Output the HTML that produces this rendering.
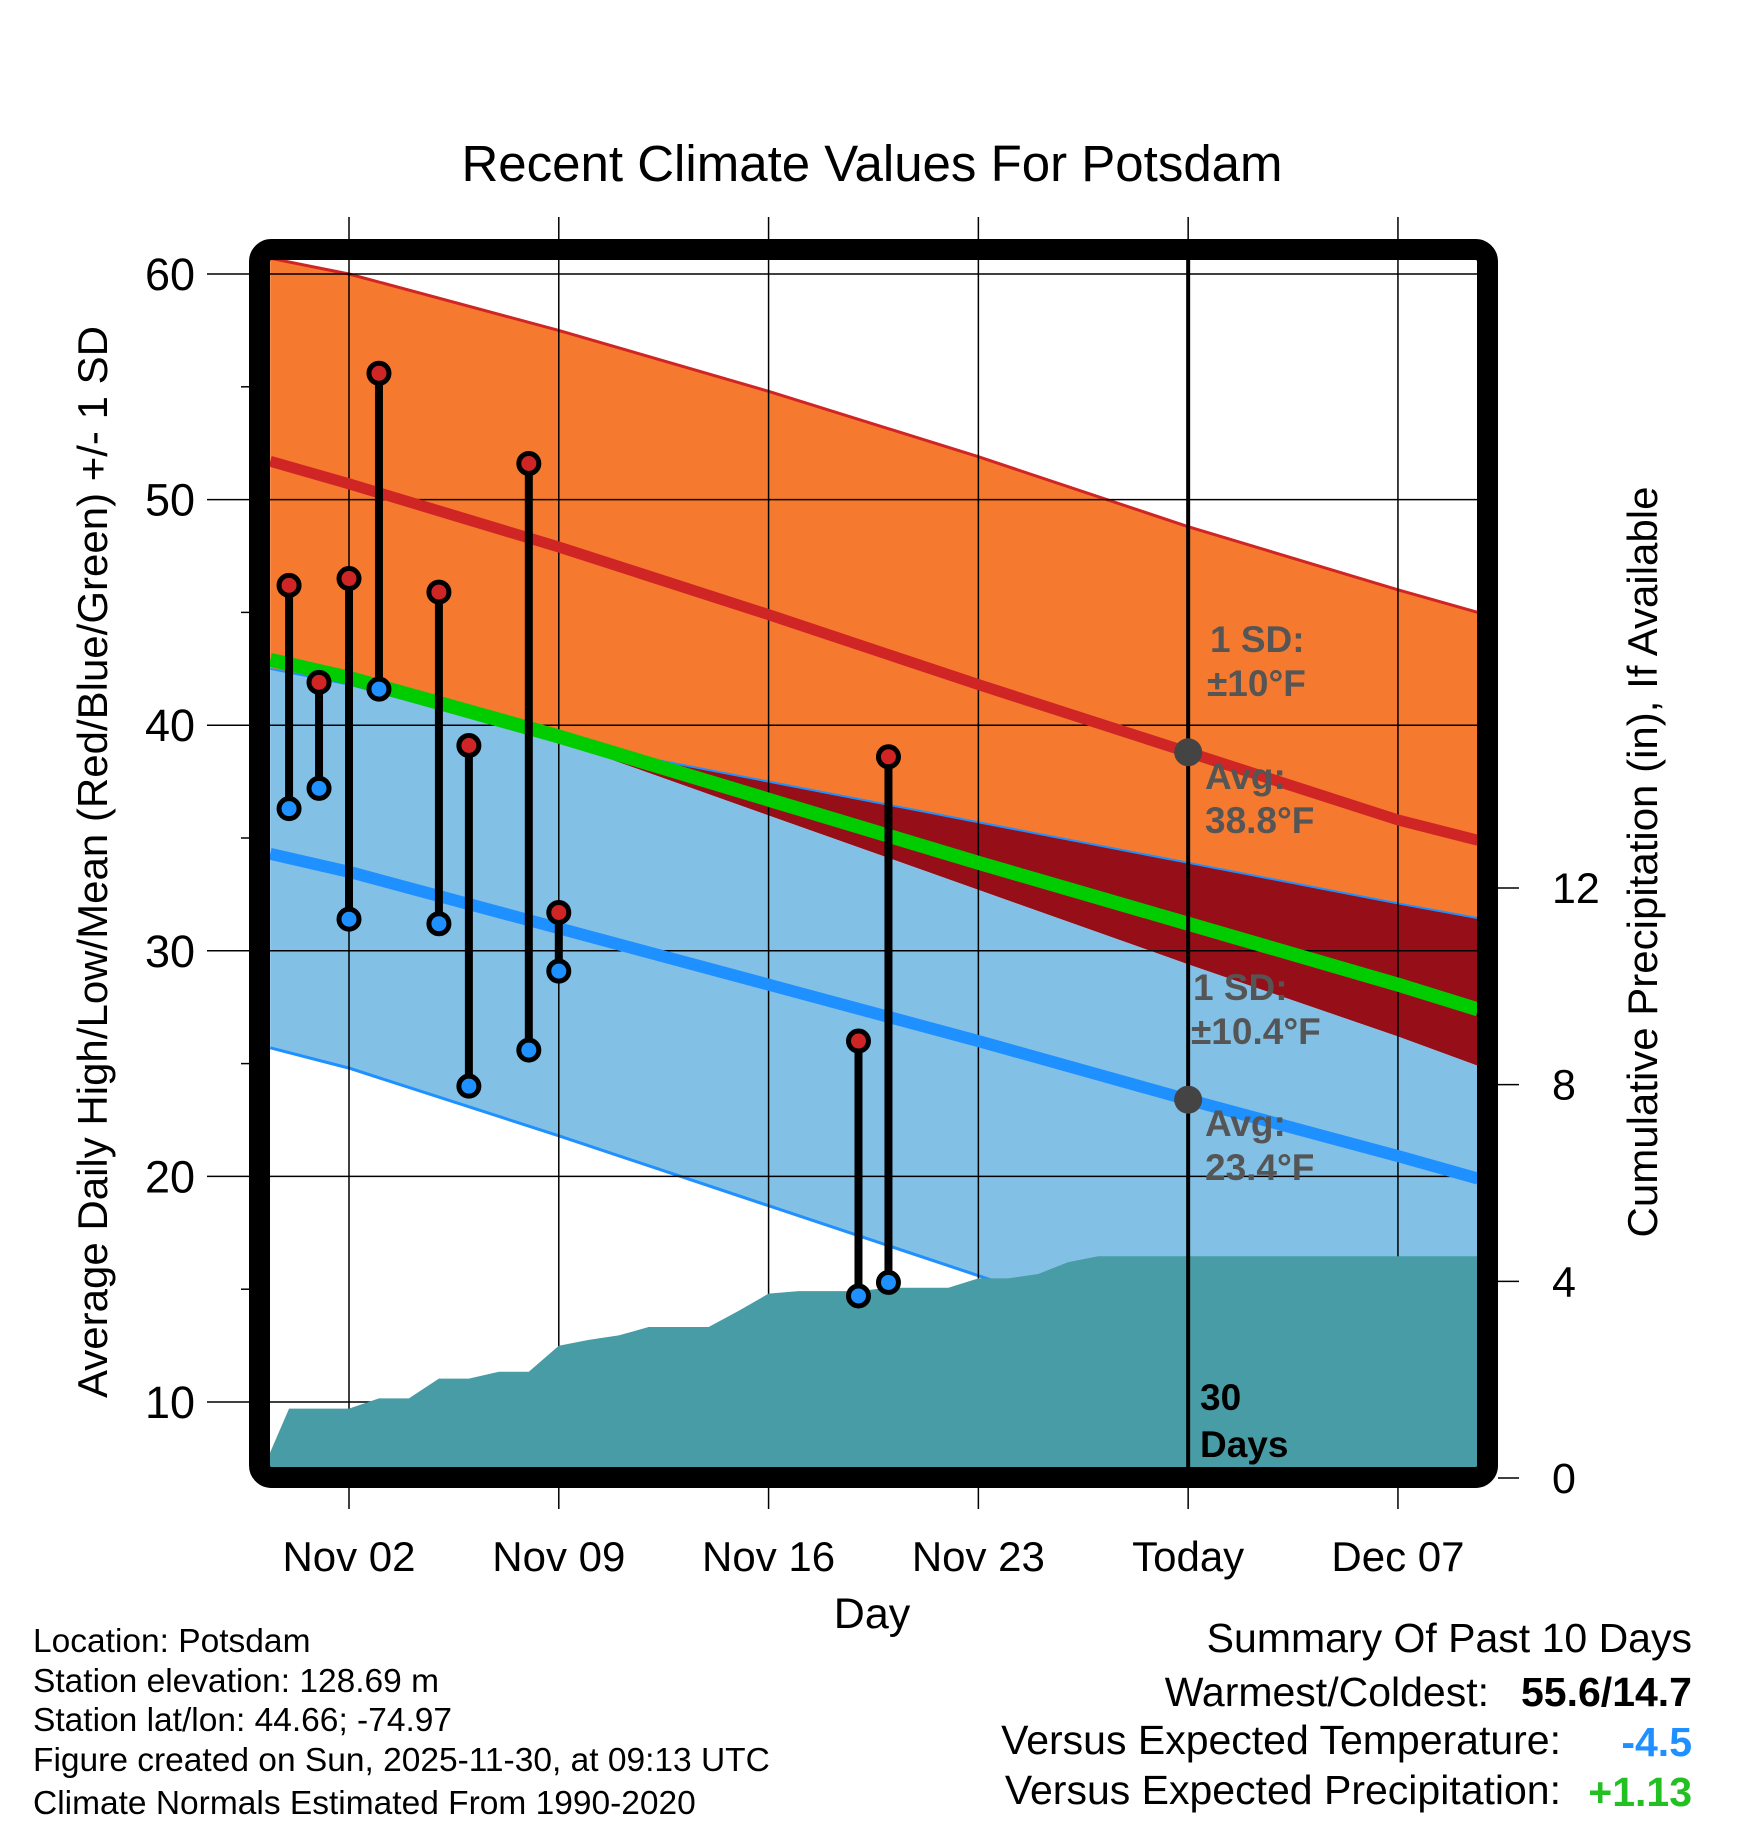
<!DOCTYPE html>
<html><head><meta charset="utf-8"><style>
html,body{margin:0;padding:0;background:#fff;}
svg{display:block;font-family:"Liberation Sans",sans-serif;}
</style></head><body>
<svg id="chart" width="1748" height="1828" viewBox="0 0 1748 1828" xmlns="http://www.w3.org/2000/svg">
<defs><clipPath id="plotclip"><rect x="270" y="260" width="1208" height="1208"/></clipPath></defs>
<text x="872" y="181" font-size="51" text-anchor="middle">Recent Climate Values For Potsdam</text>
<g id="bands" clip-path="url(#plotclip)"></g>
<g id="grid"></g>
<g id="precip" clip-path="url(#plotclip)"></g>
<g id="lines" clip-path="url(#plotclip)"></g>
<g id="obs"></g>
<g id="annot"></g>
<rect x="259.5" y="249.5" width="1228" height="1228" rx="12" fill="none" stroke="#000" stroke-width="21"/>
<g id="axes"></g>
<text x="872" y="1628" font-size="43" text-anchor="middle">Day</text>
<text transform="translate(107,862) rotate(-90)" font-size="42" text-anchor="middle">Average Daily High/Low/Mean (Red/Blue/Green) +/- 1 SD</text>
<text transform="translate(1657,862) rotate(-90)" font-size="42" text-anchor="middle">Cumulative Precipitation (in), If Available</text>
<g font-size="33.5">
<text x="33" y="1652">Location: Potsdam</text>
<text x="33" y="1692">Station elevation: 128.69 m</text>
<text x="33" y="1731">Station lat/lon: 44.66; -74.97</text>
<text x="33" y="1771">Figure created on Sun, 2025-11-30, at 09:13 UTC</text>
<text x="33" y="1814">Climate Normals Estimated From 1990-2020</text>
</g>
<g font-size="41" text-anchor="end">
<text x="1692" y="1652">Summary Of Past 10 Days</text>
<text x="1489" y="1706">Warmest/Coldest:</text>
<text x="1692" y="1706" font-weight="bold">55.6/14.7</text>
<text x="1561" y="1754">Versus Expected Temperature:</text>
<text x="1692" y="1756" font-weight="bold" fill="#1e90ff">-4.5</text>
<text x="1561" y="1804">Versus Expected Precipitation:</text>
<text x="1692" y="1806" font-weight="bold" fill="#22c022">+1.13</text>
</g>
</svg>
<script>
// normals (day offsets from Nov 02)
const normDays = [-2.63, 0, 7, 14, 21, 28, 35, 37.67];
const highPlus = [60.7, 60.0, 57.5, 54.8, 51.9, 48.8, 46.0, 45.0];
const highMean = [51.7, 50.7, 47.9, 44.9, 41.8, 38.8, 35.8, 34.9];
const lowPlus  = [42.5, 41.8, 39.3, 37.5, 35.7, 33.9, 32.1, 31.45];
const lightTop = [42.5, 41.8, 39.3, 36.0, 32.7, 29.4, 26.2, 24.9];
const meanLine = [42.9, 42.1, 39.5, 36.7, 33.9, 31.2, 28.5, 27.4];
const lowMean  = [34.3, 33.5, 31.0, 28.5, 26.0, 23.4, 20.9, 19.9];
const lowMinus = [25.7, 24.8, 21.8, 18.7, 15.6, 12.5, 9.4, 8.6];
// observations
const obsDays = [-2, -1, 0, 1, 3, 4, 6, 7, 17, 18];
const obsHigh = [46.2, 41.9, 46.5, 55.6, 45.9, 39.1, 51.6, 31.7, 26.0, 38.6];
const obsLow  = [36.3, 37.2, 31.4, 41.6, 31.2, 24.0, 25.6, 29.1, 14.7, 15.3];
// cumulative precipitation
const precipDays = [-3,-2,-1,0,1,2,3,4,5,6,7,8,9,10,11,12,13,14,15,16,17,18,19,20,21,22,23,24,25,28,38];
const precipVals = [0,1.41,1.41,1.41,1.62,1.62,2.02,2.02,2.16,2.16,2.69,2.81,2.90,3.07,3.07,3.07,3.40,3.75,3.80,3.80,3.80,3.87,3.87,3.87,4.06,4.06,4.15,4.39,4.51,4.51,4.51];
const xTickDays = [0, 7, 14, 21, 28, 35];
const xTickLabels = ["Nov 02","Nov 09","Nov 16","Nov 23","Today","Dec 07"];
const yTicks = [10, 20, 30, 40, 50, 60];
const yMinor = [15, 25, 35, 45, 55];
const y2Ticks = [0, 4, 8, 12];
const todayDay = 28;
const todayHigh = 38.8, todayLow = 23.4;

const NS = "http://www.w3.org/2000/svg";
const xd = d => 349 + d * 29.97;
const yT = t => 274 + (60 - t) * 22.56;
const yP = p => 1478 - p * 49.17;
function mk(tag, attrs, parent){const e=document.createElementNS(NS,tag);for(const k in attrs)e.setAttribute(k,attrs[k]);parent.appendChild(e);return e;}
const $ = id => document.getElementById(id);

function band(top, bot, color, name){
  let pts = normDays.map((d,i)=>xd(d)+","+yT(top[i]));
  pts = pts.concat(normDays.slice().reverse().map((d,j)=>{const i=normDays.length-1-j;return xd(d)+","+yT(bot[i]);}));
  const p = mk("polygon",{points:pts.join(" "),fill:color},$("bands"));
  
  
}
band(highPlus, lowPlus, "#f5792e", "high-sd-band");
band(lowPlus, lightTop, "#960e17", "overlap-band");
band(lightTop, lowMinus, "#82c0e6", "low-sd-band");
function line(arr, color, w, name, g){
  const p = mk("polyline",{points:normDays.map((d,i)=>xd(d)+","+yT(arr[i])).join(" "),fill:"none",stroke:color,"stroke-width":w,"stroke-linejoin":"round"},$(g));
  
  
}
line(highPlus, "#d02525", 3, "high-plus-sd-line", "bands");
line(lowPlus, "#1e90ff", 2, "low-plus-sd-line", "bands");
line(lowMinus, "#1e90ff", 3, "low-minus-sd-line", "bands");

// grid
xTickDays.forEach(d=>{
  const l = mk("line",{x1:xd(d),x2:xd(d),y1:217,y2:1509,stroke:"#000","stroke-width":1.5},$("grid"));
  
  
});
yTicks.forEach(t=>{
  const l = mk("line",{x1:207,x2:1478,y1:yT(t),y2:yT(t),stroke:"#000","stroke-width":1.5},$("grid"));
  
  
});
yMinor.forEach(t=>{
  const l = mk("line",{x1:241,x2:249,y1:yT(t),y2:yT(t),stroke:"#000","stroke-width":1.5},$("grid"));
  
  
});

// precip
{
  let pts = precipDays.map((d,i)=>xd(d)+","+yP(precipVals[i]));
  pts.push(xd(38)+","+yP(-1)); pts.push(xd(-3)+","+yP(-1));
  const p = mk("polygon",{points:pts.join(" "),fill:"#489ca5"},$("precip"));
  
  
}
line(highMean, "#d02525", 11, "high-mean-line", "lines");
line(meanLine, "#00cc00", 14, "mean-line", "lines");
line(lowMean, "#1e90ff", 12, "low-mean-line", "lines");
{
  const l = mk("line",{x1:xd(todayDay),x2:xd(todayDay),y1:255,y2:1470,stroke:"#000","stroke-width":4},$("lines"));
  
  
}

// observations
obsDays.forEach((d,i)=>{
  const x = xd(d);
  const s = mk("line",{x1:x,x2:x,y1:yT(obsHigh[i]),y2:yT(obsLow[i]),stroke:"#000","stroke-width":8},$("obs"));
  
  
});
obsDays.forEach((d,i)=>{
  const x = xd(d);
  const h = mk("circle",{cx:x,cy:yT(obsHigh[i]),r:10,fill:"#d02525",stroke:"#000","stroke-width":5},$("obs"));
  
  
  const l = mk("circle",{cx:x,cy:yT(obsLow[i]),r:10,fill:"#1e90ff",stroke:"#000","stroke-width":5},$("obs"));
  
  
});
[todayHigh, todayLow].forEach(t=>{
  const c = mk("circle",{cx:xd(todayDay),cy:yT(t),r:14,fill:"#444"},$("obs"));
  
  
});

// annotations
const ann = [
  [1210,652,"1 SD:","#555"],[1207,696,"±10°F","#555"],
  [1205,789,"Avg:","#555"],[1205,833,"38.8°F","#555"],
  [1193,1000,"1 SD:","#555"],[1191,1044,"±10.4°F","#555"],
  [1205,1136,"Avg:","#555"],[1205,1180,"23.4°F","#555"],
  [1200,1410,"30","#000"],[1200,1457,"Days","#000"]
];
ann.forEach(a=>{
  const t = mk("text",{x:a[0],y:a[1],"font-size":37,"font-weight":"bold",fill:a[3]},$("annot"));
  t.textContent = a[2];
  
  
});

// axes labels
yTicks.forEach(t=>{
  const e = mk("text",{x:195,y:yT(t)+16,"font-size":45,"text-anchor":"end"},$("axes"));
  e.textContent = t;
  
  
});
xTickDays.forEach((d,i)=>{
  const e = mk("text",{x:xd(d),y:1571,"font-size":42,"text-anchor":"middle"},$("axes"));
  e.textContent = xTickLabels[i];
  
  
});
y2Ticks.forEach(p=>{
  const l = mk("line",{x1:1498,x2:1519,y1:yP(p),y2:yP(p),stroke:"#000","stroke-width":1.5},$("axes"));
  
  
  const e = mk("text",{x:1552,y:yP(p)+15,"font-size":43},$("axes"));
  e.textContent = p;
  
  
});
</script>
</body></html>
